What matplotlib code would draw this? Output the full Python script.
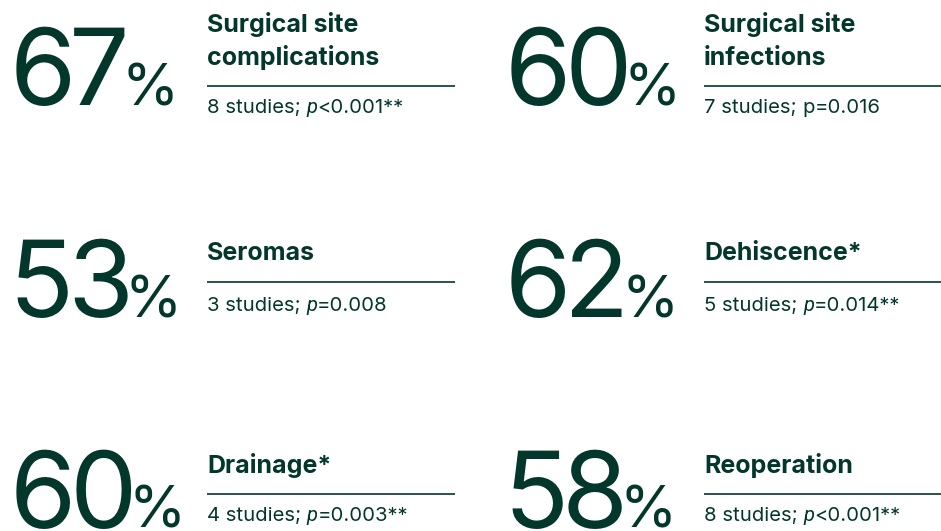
import matplotlib
matplotlib.use("Agg")
import matplotlib.pyplot as plt
from matplotlib.font_manager import FontProperties, findfont, get_font

# ---- data ----
values = [67, 60, 53, 62, 60, 58]
titles = ["Surgical site\ncomplications", "Surgical site\ninfections",
          "Seromas", "Dehiscence*", "Drainage*", "Reoperation"]
n_studies = [8, 7, 3, 5, 4, 8]
p_rel = ["<0.001**", "=0.016", "=0.008", "=0.014**", "=0.003**", "<0.001**"]
p_italic = [True, False, True, True, True, True]

COLOR = "#04372C"
W, H = 941, 531
DPI = 100
fig = plt.figure(figsize=(W / DPI, H / DPI), dpi=DPI)
ax = fig.add_axes([0, 0, 1, 1])
ax.set_xlim(0, W)
ax.set_ylim(H, 0)
ax.axis("off")

col_num_x = [13, 508]
col_title_x = [207, 704]
col_line_end = [455, 941]
row_num_base = [105, 317, 528]
row_title_base = [[32, 65], [260], [473]]
row_line_y = [86, 282, 494]
row_sub_base = [113, 311, 521]

NUM_FP = FontProperties(family="Inter", weight="normal")
NUM_SIZE = 77
PCT_FP = FontProperties(family="Inter", weight="normal")
PCT_SIZE = 42
TITLE_FP = FontProperties(family="Inter", weight="bold")
TITLE_SIZE = 18
SUB_FP = FontProperties(family="Inter", weight="normal")
SUB_IT_FP = FontProperties(family="Roboto", style="italic")
SUB_SIZE = 14.6


def metrics(ch, fp, size):
    font = get_font(findfont(fp))
    font.set_size(size, DPI)
    g = font.load_char(ord(ch))
    return g.horiBearingX / 64.0, g.linearHoriAdvance / 65536.0


def run_width(s, fp, size):
    return sum(metrics(ch, fp, size)[1] for ch in s)


def draw_piece(pen, y, s, fp, size, per_char=False, tracking=0.0):
    """Draw string s with its pen origin at `pen`; return the new pen."""
    if per_char:
        for ch in s:
            ax.text(pen, y, ch, fontproperties=fp, fontsize=size,
                    color=COLOR, ha="left", va="baseline")
            pen += metrics(ch, fp, size)[1] + tracking
        return pen
    ax.text(pen, y, s, fontproperties=fp, fontsize=size,
            color=COLOR, ha="left", va="baseline")
    return pen + run_width(s, fp, size)


def ink_start(x, s, fp, size, frac=1.0):
    """Pen origin so that the first glyph's ink starts near x."""
    return x - frac * metrics(s[0], fp, size)[0]


for i, v in enumerate(values):
    c = i % 2
    r = i // 2
    s = f"{v}"
    pen = ink_start(col_num_x[c], s, NUM_FP, NUM_SIZE, frac=0.5)
    pen = draw_piece(pen, row_num_base[r], s, NUM_FP, NUM_SIZE,
                     per_char=True, tracking=-7)
    draw_piece(pen - 1, row_num_base[r], "%", PCT_FP, PCT_SIZE)

    lines = titles[i].split("\n")
    bases = row_title_base[r]
    if len(lines) == 1 and len(bases) > 1:
        bases = [bases[0]]
    for ln, b in zip(lines, bases):
        ax.text(col_title_x[c], b, ln, fontproperties=TITLE_FP,
                fontsize=TITLE_SIZE, color=COLOR, ha="left", va="baseline")
    ax.plot([col_title_x[c], col_line_end[c]], [row_line_y[r]] * 2,
            color=COLOR, lw=1.2, solid_capstyle="butt")

    sb = row_sub_base[r]
    first = f"{n_studies[i]} studies; "
    pen = draw_piece(col_title_x[c], sb, first, SUB_FP, SUB_SIZE)
    pfp = SUB_IT_FP if p_italic[i] else SUB_FP
    pen = draw_piece(pen, sb, "p", pfp, SUB_SIZE)
    draw_piece(pen, sb, p_rel[i], SUB_FP, SUB_SIZE)

fig.savefig("out.png", dpi=DPI)
